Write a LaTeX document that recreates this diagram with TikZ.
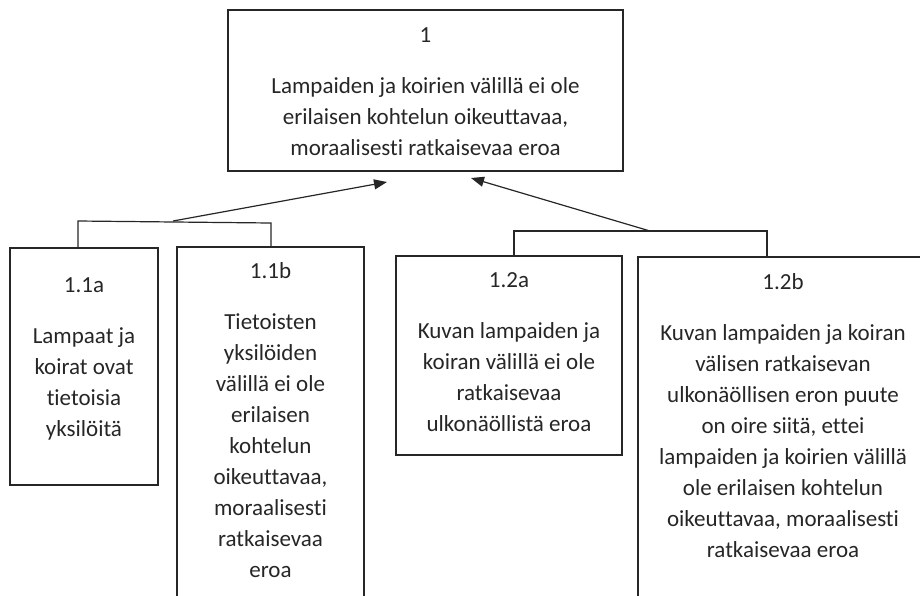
\documentclass[tikz,border=0pt]{standalone}
\usepackage{fontspec}
\setmainfont{Carlito}[Ligatures=NoCommon]
\usepackage{tikz}
\usetikzlibrary{arrows.meta,positioning}

\begin{document}
\begin{tikzpicture}[x=1pt,y=-1pt]
            \tikzstyle{every node}+=[inner sep=0pt,outer sep=0pt]
            \tikzstyle{box}=[draw=black!85,line width=1.4pt]
            \tikzstyle{txt}=[align=center,font=\fontsize{23}{31}\selectfont,text=black!85]
            \tikzstyle{link}=[draw=black!85,line width=1.2pt]
            \tikzstyle{arr}=[link,-{Triangle[length=13pt,width=10pt]}]
            \clip (0,0) rectangle (920,595);
            \node [box,anchor=north west,minimum width=395pt,minimum height=161pt] (n1) at (228,10) {};
            \node [txt,below=18pt of n1.north] (t1) {1\\[20pt]Lampaiden ja koirien välillä ei ole\\erilaisen kohtelun oikeuttavaa,\\moraalisesti ratkaisevaa eroa};
            \node [box,anchor=north west,minimum width=148pt,minimum height=237pt] (n11a) at (10,248) {};
            \node [txt,below=30pt of n11a.north] (t11a) {1.1a\\[20pt]Lampaat ja\\koirat ovat\\tietoisia\\yksilöitä};
            \node [anchor=north west,minimum width=187pt,minimum height=360pt] (n11b) at (177,247) {};
            \draw [box] (n11b.south west) -- (n11b.north west) -- (n11b.north east) -- (n11b.south east);
            \node [txt,below=16pt of n11b.north] (t11b) {1.1b\\[20pt]Tietoisten\\yksilöiden\\välillä ei ole\\erilaisen\\kohtelun\\oikeuttavaa,\\moraalisesti\\ratkaisevaa\\eroa};
            \node [box,anchor=north west,minimum width=226pt,minimum height=199pt] (n12a) at (396,256) {};
            \node [txt,below=17pt of n12a.north] (t12a) {1.2a\\[20pt]Kuvan lampaiden ja\\koiran välillä ei ole\\ratkaisevaa\\ulkonäöllistä eroa};
            \node [anchor=north west,minimum width=290pt,minimum height=360pt] (n12b) at (638,257) {};
            \draw [box] (n12b.south west) -- (n12b.north west) -- (n12b.north east) -- (n12b.south east);
            \node [txt,below=17pt of n12b.north] (t12b) {1.2b\\[20pt]Kuvan lampaiden ja koiran\\välisen ratkaisevan\\ulkonäöllisen eron puute\\on oire siitä, ettei\\lampaiden ja koirien välillä\\ole erilaisen kohtelun\\oikeuttavaa, moraalisesti\\ratkaisevaa eroa};
            \coordinate (l1) at (78,221);
            \coordinate (l2) at (271,223);
            \coordinate (j1) at (173,221);
            \coordinate (a1) at (387,182);
            \draw [link] (n11a.north -| l1) -- (l1) -- (l2) -- (n11b.north -| l2);
            \draw [arr] (j1) -- (a1);
            \coordinate (r1) at (514,231);
            \coordinate (r2) at (767,231);
            \coordinate (j2) at (650,231);
            \coordinate (a2) at (471,178);
            \draw [link] (n12a.north -| r1) -- (r1) -- (r2) -- (n12b.north -| r2);
            \draw [arr] (j2) -- (a2);
        \end{tikzpicture}
\end{document}
